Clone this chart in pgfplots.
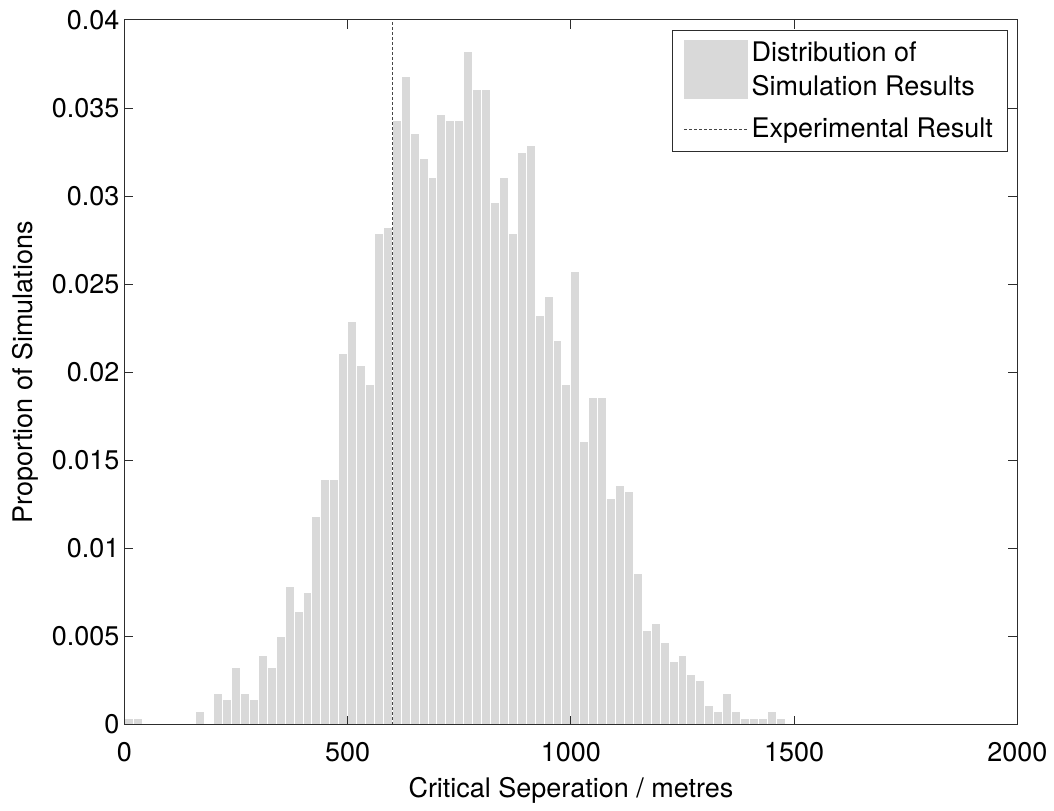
\documentclass[border=0pt]{standalone}
\usepackage{pgfplots}
\pgfplotsset{compat=1.18}
\usepackage{pgfplotstable}
\usepackage{fontspec}
\setmainfont{TeX Gyre Heros}
\definecolor{barcol}{RGB}{217,217,217}
\definecolor{axcol}{RGB}{45,45,45}
\definecolor{dashcol}{RGB}{70,70,70}
\newcommand\fs{\fontsize{13.5pt}{17pt}\selectfont}
\pgfplotstableread{
x y
0 0.000357
20 0.000357
40 0
60 0
80 0
100 0
120 0
140 0
160 0.000714
180 0
200 0.001786
220 0.001429
240 0.003214
260 0.001786
280 0.001429
300 0.003929
320 0.003214
340 0.005
360 0.007857
380 0.006429
400 0.0075
420 0.011786
440 0.013929
460 0.013929
480 0.021071
500 0.022857
520 0.020357
540 0.019286
560 0.027857
580 0.028214
600 0.034286
620 0.036786
640 0.033571
660 0.032143
680 0.031071
700 0.034643
720 0.034286
740 0.034286
760 0.038214
780 0.036071
800 0.036071
820 0.029643
840 0.031071
860 0.027857
880 0.0325
900 0.032857
920 0.023214
940 0.024286
960 0.021786
980 0.019286
1000 0.025714
1020 0.016071
1040 0.018571
1060 0.018571
1080 0.012857
1100 0.013571
1120 0.013214
1140 0.008571
1160 0.005357
1180 0.005714
1200 0.004643
1220 0.003571
1240 0.003929
1260 0.002857
1280 0.0025
1300 0.001071
1320 0.000714
1340 0.001786
1360 0.000714
1380 0.000357
1400 0.000357
1420 0.000357
1440 0.000714
1460 0.000357
1480 0
}\histdata
\begin{document}
\begin{tikzpicture}
\begin{axis}[
  scale only axis, width=446.75pt, height=352.5pt,
  xmin=0, xmax=2000, ymin=0, ymax=0.04,
  scaled ticks=false, axis on top,
  xtick={0,500,1000,1500,2000},
  xticklabels={0,500,1000,1500,2000},
  ytick={0,0.005,0.01,0.015,0.02,0.025,0.03,0.035,0.04},
  yticklabels={0,0.005,0.01,0.015,0.02,0.025,0.03,0.035,0.04},
  tick pos=both, tick align=inside, major tick length=4.5pt,
  tick style={axcol, line width=0.5pt},
  axis line style={axcol, line width=0.5pt},
  /pgf/number format/assume math mode=true,
  ticklabel style={font=\fs},
  xticklabel style={yshift=-5.5pt},
  yticklabel style={xshift=1pt},
  label style={font=\fs},
  xlabel={Critical Seperation / metres},
  xlabel style={yshift=-1pt},
  ylabel={Proportion of Simulations},
  legend style={at={(axis description cs:1,1)}, anchor=north east,
    xshift=-4.5pt, yshift=-5pt, draw=axcol, line width=0.5pt, font=\fs,
    cells={anchor=west, align=left}, inner xsep=5.5pt, inner ysep=3.5pt,
    row sep=6pt},
  legend cell align=left,
]
\addplot[ybar interval, fill=barcol, draw=white, line width=0.5pt,
  legend image code/.code={\fill[barcol] (0pt,-14.5pt) rectangle (31.5pt,14.5pt);}]
  table[x=x, y=y] {\histdata};
\addlegendentry{Distribution of\\Simulation Results}
\addplot[dashcol, line width=0.5pt, dash pattern=on 1.5pt off 1pt,
  legend image code/.code={\draw[dashcol, line width=0.5pt, dash pattern=on 1.5pt off 1pt] (0pt,0pt) -- (31.5pt,0pt);}]
  coordinates {(600,0) (600,0.04)};
\addlegendentry{Experimental Result}
\end{axis}
\path ([shift={(-62.25pt,-41pt)}]current axis.south west) rectangle ([shift={(18pt,10pt)}]current axis.north east);
\end{tikzpicture}
\end{document}
